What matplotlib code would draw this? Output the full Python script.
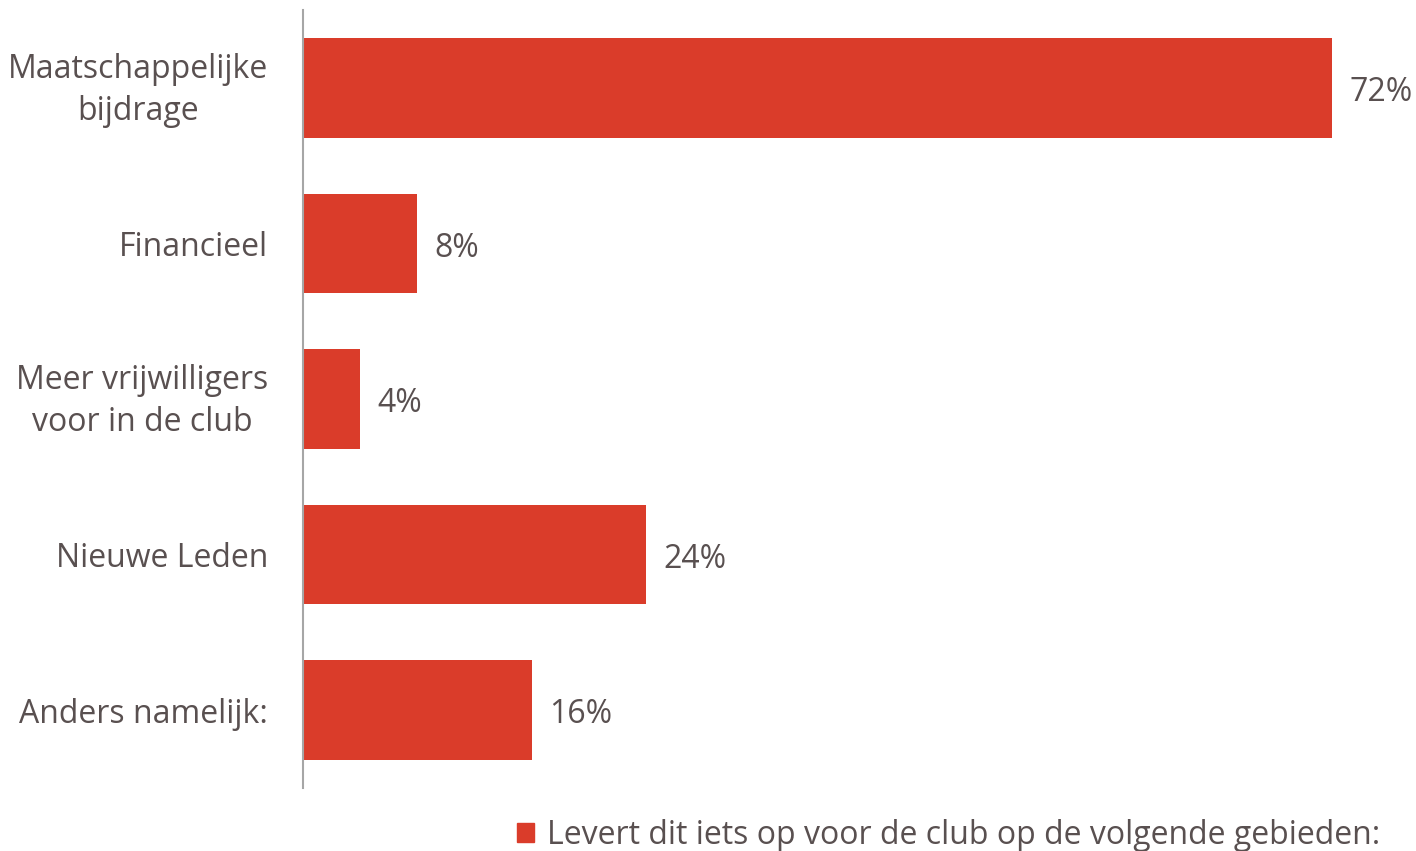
import matplotlib.pyplot as plt
import matplotlib.transforms as mtransforms
from matplotlib.patches import Patch

categories = ["Maatschappelijke\nbijdrage", "Financieel", "Meer vrijwilligers\nvoor in de club",
              "Nieuwe Leden", "Anders namelijk:"]
values = [72, 8, 4, 24, 16]
series_name = "Levert dit iets op voor de club op de volgende gebieden:"

bar_color = "#DA3C2A"
text_color = "#595050"

plt.rcParams['font.family'] = ['Open Sans', 'DejaVu Sans']

fig = plt.figure(figsize=(14.16, 8.51), dpi=100)
W, H = 1416, 851
ax = fig.add_axes([303 / W, 1 - 788 / H, (W - 303) / W, (788 - 10) / H])

ypos = range(len(categories))
ax.barh(ypos, values, height=0.64, color=bar_color)
for y, v in zip(ypos, values):
    ax.text(v + 1.2, y + 0.03, f"{v}%", va="center", ha="left", fontsize=23, color=text_color)

ax.set_ylim(4.5, -0.5)
ax.set_xlim(0, (W - 303) / 14.29)
ax.set_yticks(list(ypos))
ax.set_yticklabels(categories, fontsize=23, color=text_color, ha="right",
                   multialignment="center", linespacing=1.35)
ax.tick_params(axis="y", length=0, pad=25)
# two-line labels sit a bit high in the original
shift = mtransforms.ScaledTranslation(0, 6 / 100, fig.dpi_scale_trans)
for lab in ax.get_yticklabels():
    if "\n" in lab.get_text():
        lab.set_transform(lab.get_transform() + shift)
ax.set_xticks([])
for s in ["top", "right", "bottom"]:
    ax.spines[s].set_visible(False)
ax.spines["left"].set_color("#A6A6A6")
ax.spines["left"].set_linewidth(1.5)

handle = Patch(color=bar_color)
fig.legend([handle], [series_name], loc="lower right", bbox_to_anchor=(1409 / W, -0.035),
           frameon=False, fontsize=23, labelcolor=text_color,
           handlelength=0.55, handleheight=0.55, handletextpad=0.4)

fig.savefig("out.png", dpi=100)
